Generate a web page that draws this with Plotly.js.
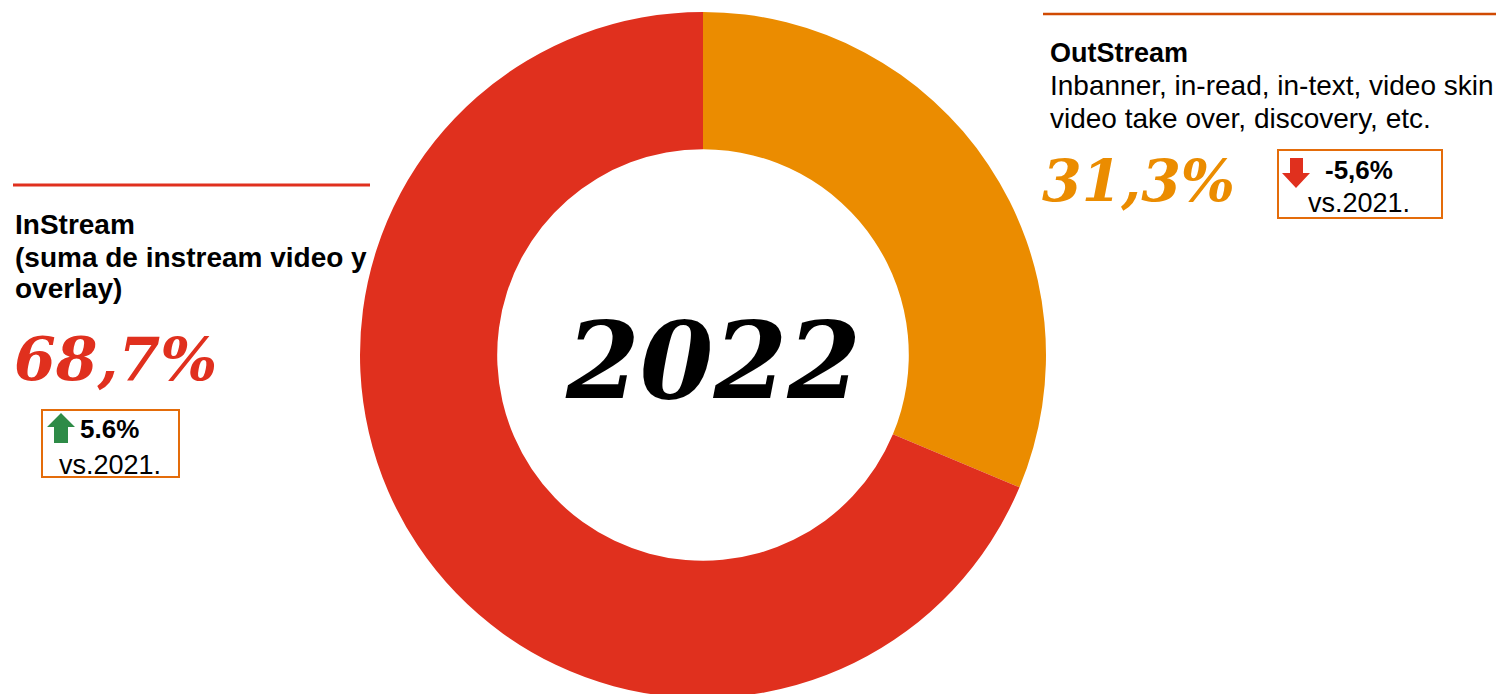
<!DOCTYPE html>
<html>
<head>
<meta charset="utf-8">
<script src="https://cdn.plot.ly/plotly-3.0.1.min.js"></script>
<style>
html,body{margin:0;padding:0;overflow:hidden;background:#fff;}
#chart{width:1496px;height:710px;}
</style>
</head>
<body>
<div id="chart"></div>
<script>
// ---- data ----
const labels = ['OutStream', 'InStream'];
const values = [31.3, 68.7];
const shareText = ['31,3%', '68,7%'];
const changeText = ['-5,6%', '5.6%'];
const compareText = 'vs.2021.';
const yearText = '2022';
const outDesc = ['Inbanner, in-read, in-text, video skin', 'video take over, discovery, etc.'];
const inDesc = ['(suma de instream video y', 'overlay)'];

// ---- layout helpers ----
const W = 1496, H = 710;
const px = x => x / W;
const py = y => 1 - y / H;
const colors = ['#EB8C00', '#E0301E'];
const sans = 'Liberation Sans, Arial, sans-serif';
const serif = 'DejaVu Serif, serif';

function ann(text, x, baseline, size, opts) {
  opts = opts || {};
  return {
    text: text, xref: 'paper', yref: 'paper',
    x: px(x), y: py(baseline - 0.35 * size),
    xanchor: opts.xanchor || 'left', yanchor: 'middle',
    showarrow: false, borderpad: 0,
    font: {family: opts.family || sans, size: size, color: opts.color || '#000',
           weight: opts.weight || 'normal', style: opts.style || 'normal'}
  };
}
function poly(pts, color) {
  return {type: 'path', xref: 'paper', yref: 'paper',
    path: 'M' + pts.map(p => px(p[0]) + ',' + py(p[1])).join('L') + 'Z',
    fillcolor: color, line: {width: 0}};
}
function rect(x0, y0, x1, y1, color) {
  return {type: 'rect', xref: 'paper', yref: 'paper',
    x0: px(x0), x1: px(x1), y0: py(y1), y1: py(y0),
    line: {color: color, width: 2}, fillcolor: 'rgba(0,0,0,0)'};
}
function hline(x0, x1, y, color, w) {
  return {type: 'line', xref: 'paper', yref: 'paper',
    x0: px(x0), x1: px(x1), y0: py(y), y1: py(y), line: {color: color, width: w}};
}

const trace = {
  type: 'pie', labels: labels, values: values, hole: 0.6,
  sort: false, direction: 'clockwise', rotation: 0,
  marker: {colors: colors, line: {width: 0}},
  textinfo: 'none', hoverinfo: 'label+percent', showlegend: false,
  domain: {x: [px(360), px(1046)], y: [py(698), py(12)]}
};

const annotations = [
  ann(labels[0], 1049, 62, 27, {weight: 'bold'}),
  ann(outDesc[0], 1049, 95, 28),
  ann(outDesc[1], 1049, 128, 28),
  ann(shareText[0], 1041, 200, 57, {family: serif, weight: 'bold', style: 'italic', color: colors[0]}),
  ann(changeText[0], 1324, 179, 26, {weight: 'bold'}),
  ann(compareText, 1307, 212, 27),

  ann(labels[1], 14, 234, 28, {weight: 'bold'}),
  ann(inDesc[0], 14, 267, 28, {weight: 'bold'}),
  ann(inDesc[1], 14, 298, 28, {weight: 'bold'}),
  ann(shareText[1], 13, 380, 60, {family: serif, weight: 'bold', style: 'italic', color: colors[1]}),
  ann(changeText[1], 79, 438, 26, {weight: 'bold'}),
  ann(compareText, 58, 474, 27),

  ann(yearText, 713, 398, 106, {family: serif, weight: 'bold', style: 'italic', xanchor: 'center'})
];

const shapes = [
  hline(1043, 1496, 14, '#D04A02', 2.5),
  hline(13, 370, 185, '#E0301E', 3),
  rect(1278, 150, 1442, 218, '#E46C0A'),
  rect(42, 410, 179, 477, '#E46C0A'),
  poly([[1290,158],[1303,158],[1303,173],[1310,173],[1296,188],[1282,173],[1290,173]], '#E0301E'),
  poly([[61,413],[75,427],[68,427],[68,443],[54,443],[54,427],[47,427]], '#2E8B47')
];

Plotly.newPlot('chart', [trace], {
  width: W, height: H,
  margin: {l: 0, r: 0, t: 0, b: 0},
  paper_bgcolor: '#fff', plot_bgcolor: '#fff',
  annotations: annotations, shapes: shapes
}, {displayModeBar: false, staticPlot: true});
</script>
</body>
</html>
